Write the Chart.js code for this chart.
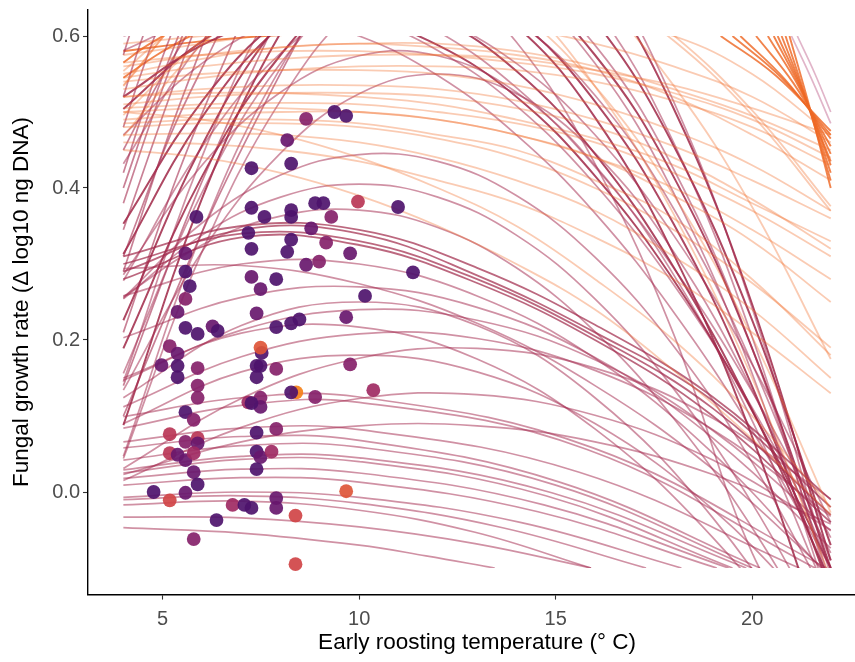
<!DOCTYPE html>
<html>
<head>
<meta charset="utf-8">
<script src="https://cdn.jsdelivr.net/npm/chart.js@4.4.1/dist/chart.umd.min.js"></script>
<style>
  html, body { margin: 0; padding: 0; background: #fff; overflow: hidden; }
  #c { display: block; }
</style>
</head>
<body>
<canvas id="c" width="873" height="662"></canvas>
<script>
// ---------- axis ticks ----------
const xTicks = [5, 10, 15, 20];
const xTickLabels = ['5', '10', '15', '20'];
const yTicks = [0, 0.2, 0.4, 0.6];
const yTickLabels = ['0.0', '0.2', '0.4', '0.6'];

// fitted curves are bounded to this response range
const curveRange = [-0.1, 0.6];

// ---------- posterior curve draws ----------
// sampled on shared temperature grids
const gridX = [4, 6, 8, 10, 12, 14, 16, 18, 20, 22];
const gridX3 = [4, 7, 10, 13, 16, 19, 22];

// warm-roost draws (pale orange)
const paleDraws = [
  [0.575, 0.59, 0.605, 0.62, 0.63, 0.63, 0.62, 0.60, 0.55, 0.47],
  [0.59, 0.60, 0.61, 0.615, 0.615, 0.61, 0.59, 0.56, 0.52, 0.46],
  [0.565, 0.575, 0.58, 0.58, 0.575, 0.565, 0.55, 0.525, 0.49, 0.44],
  [0.545, 0.56, 0.57, 0.575, 0.575, 0.57, 0.555, 0.535, 0.505, 0.47],
  [0.54, 0.55, 0.555, 0.555, 0.55, 0.535, 0.51, 0.475, 0.43, 0.37],
  [0.53, 0.545, 0.555, 0.56, 0.56, 0.555, 0.54, 0.515, 0.48, 0.43],
  [0.52, 0.53, 0.535, 0.535, 0.53, 0.515, 0.49, 0.455, 0.41, 0.36],
  [0.51, 0.52, 0.525, 0.525, 0.52, 0.505, 0.48, 0.44, 0.385, 0.32],
  [0.505, 0.51, 0.512, 0.51, 0.50, 0.485, 0.46, 0.42, 0.37, 0.31],
  [0.50, 0.505, 0.505, 0.50, 0.49, 0.47, 0.44, 0.40, 0.345, 0.28],
  [0.49, 0.497, 0.50, 0.50, 0.49, 0.47, 0.44, 0.39, 0.33, 0.25],
  [0.485, 0.49, 0.49, 0.485, 0.47, 0.45, 0.41, 0.36, 0.28, 0.18],
  [0.48, 0.485, 0.485, 0.48, 0.465, 0.44, 0.40, 0.345, 0.275, 0.19],
  [0.47, 0.472, 0.47, 0.46, 0.44, 0.41, 0.37, 0.31, 0.24, 0.15],
  [0.46, 0.458, 0.45, 0.435, 0.41, 0.38, 0.335, 0.28, 0.21, 0.13],
  [0.45, 0.44, 0.42, 0.39, 0.35, 0.30, 0.24, 0.16, 0.07, -0.03],
  [0.50, 0.49, 0.47, 0.44, 0.40, 0.35, 0.28, 0.20, 0.10, -0.02],
  [0.55, 0.57, 0.585, 0.59, 0.59, 0.58, 0.56, 0.53, 0.495, 0.45],
  [0.56, 0.575, 0.585, 0.59, 0.585, 0.575, 0.555, 0.52, 0.47, 0.41],
  [0.52, 0.525, 0.525, 0.52, 0.51, 0.49, 0.465, 0.43, 0.38, 0.33],
  [0.554, 0.64, 0.70, 0.733, 0.739, 0.719, 0.673, 0.601, 0.502, 0.376],
  [0.496, 0.594, 0.664, 0.706, 0.72, 0.706, 0.664, 0.594, 0.496, 0.37],
  [0.535, 0.655, 0.735, 0.775, 0.775, 0.735, 0.655, 0.535, 0.375, 0.175],
  [0.534, 0.654, 0.726, 0.75, 0.726, 0.654, 0.534, 0.366, 0.15, -0.114],
  [0.468, 0.589, 0.666, 0.699, 0.688, 0.633, 0.534, 0.391, 0.204, -0.027]
];

// warm-roost draws whose visible parts are short and strongly coloured
const warmTails = [
  [[19.2, 0.6], [20.6, 0.548], [22, 0.475]],
  [[19.5, 0.6], [20.75, 0.545], [22, 0.47]],
  [[19.7, 0.6], [20.85, 0.542], [22, 0.465]],
  [[20.1, 0.6], [21.05, 0.538], [22, 0.455]],
  [[20.4, 0.6], [21.2, 0.532], [22, 0.445]],
  [[20.55, 0.6], [21.27, 0.527], [22, 0.435]],
  [[20.65, 0.6], [21.32, 0.523], [22, 0.43]],
  [[20.75, 0.6], [21.37, 0.517], [22, 0.42]],
  [[20.85, 0.6], [21.42, 0.51], [22, 0.41]],
  [[20.95, 0.6], [21.47, 0.505], [22, 0.40]],
  [[4, 0.565], [4.5, 0.584], [5, 0.6], [5.4, 0.614]],
  [[4, 0.545], [4.85, 0.575], [5.7, 0.6], [6.2, 0.613]],
  [[4, 0.58], [5.8, 0.592], [7.6, 0.6], [8.4, 0.602]]
];

// cold-roost draws on gridX
const coldDraws = [
  [0.600, 0.626, 0.626, 0.600, 0.548, 0.470, 0.367, 0.237, 0.081, -0.100],
  [0.581, 0.625, 0.640, 0.625, 0.581, 0.508, 0.405, 0.273, 0.111, -0.080],
  [0.606, 0.650, 0.665, 0.650, 0.606, 0.532, 0.428, 0.295, 0.132, -0.060],
  [0.470, 0.564, 0.621, 0.640, 0.621, 0.564, 0.470, 0.338, 0.168, -0.040],
  [0.044, 0.316, 0.515, 0.642, 0.697, 0.679, 0.588, 0.425, 0.189, -0.120],
  [0.047, 0.342, 0.558, 0.696, 0.755, 0.735, 0.637, 0.460, 0.204, -0.130],
  [0.145, 0.441, 0.656, 0.789, 0.842, 0.814, 0.704, 0.514, 0.242, -0.110],
  [0.286, 0.430, 0.526, 0.574, 0.574, 0.526, 0.430, 0.286, 0.094, -0.146],
  [0.134, 0.316, 0.446, 0.524, 0.550, 0.524, 0.446, 0.316, 0.134, -0.100],
  [0.255, 0.354, 0.417, 0.444, 0.435, 0.390, 0.309, 0.192, 0.039, -0.150],
  [0.254, 0.338, 0.388, 0.405, 0.388, 0.338, 0.254, 0.136, -0.015, -0.200],
  [0.257, 0.325, 0.363, 0.371, 0.348, 0.295, 0.211, 0.097, -0.047, -0.220],
  [0.278, 0.454, 0.577, 0.645, 0.658, 0.618, 0.522, 0.373, 0.169, -0.090],
  [0.156, 0.394, 0.564, 0.666, 0.700, 0.666, 0.564, 0.394, 0.156, -0.150],
  [0.432, 0.592, 0.688, 0.720, 0.688, 0.592, 0.432, 0.208, -0.080, -0.248]
];

// cold-roost draws that overlap many times (drawn heavier), on gridX
const coldDense = [
  [0.520, 0.588, 0.623, 0.623, 0.588, 0.520, 0.416, 0.279, 0.107, -0.100],
  [0.504, 0.593, 0.643, 0.653, 0.623, 0.554, 0.445, 0.296, 0.108, -0.119],
  [0.353, 0.514, 0.622, 0.675, 0.675, 0.622, 0.514, 0.353, 0.139, -0.130],
  [0.189, 0.415, 0.575, 0.672, 0.704, 0.672, 0.575, 0.415, 0.189, -0.100],
  [0.226, 0.456, 0.620, 0.719, 0.752, 0.719, 0.620, 0.456, 0.226, -0.070],
  [0.088, 0.386, 0.604, 0.743, 0.803, 0.783, 0.683, 0.505, 0.247, -0.090],
  [0.313, 0.493, 0.613, 0.673, 0.673, 0.613, 0.493, 0.313, 0.073, -0.228]
];

// heavy middle bundle, on gridX3
const coldBundle = [
  [0.290, 0.345, 0.340, 0.285, 0.210, 0.120, -0.020],
  [0.300, 0.340, 0.330, 0.280, 0.205, 0.110, -0.030],
  [0.280, 0.335, 0.325, 0.275, 0.200, 0.100, -0.040],
  [0.310, 0.350, 0.345, 0.295, 0.220, 0.125, -0.010]
];

// cold-roost draws on gridX3
const coldMid = [
  [0.258, 0.300, 0.300, 0.258, 0.176, 0.051, -0.114],
  [0.294, 0.298, 0.274, 0.222, 0.140, 0.030, -0.110],
  [0.203, 0.256, 0.270, 0.243, 0.177, 0.071, -0.074],
  [0.147, 0.213, 0.240, 0.226, 0.174, 0.081, -0.051],
  [0.112, 0.178, 0.208, 0.202, 0.160, 0.082, -0.032],
  [0.031, 0.123, 0.176, 0.189, 0.163, 0.097, -0.009],
  [0.015, 0.085, 0.123, 0.128, 0.101, 0.042, -0.050],
  [0.023, 0.066, 0.087, 0.087, 0.066, 0.023, -0.042],
  [0.150, 0.209, 0.217, 0.175, 0.083, -0.060, -0.250],
  [0.090, 0.158, 0.180, 0.158, 0.090, -0.023, -0.180],
  [0.124, 0.219, 0.250, 0.219, 0.124, -0.034, -0.254]
];

// low cold-roost draws, ending where they reach the lower bound
const coldLow = [
  [[4, -0.047], [7, -0.054], [10, -0.07], [11.7, -0.084], [13.45, -0.1]],
  [[4, -0.033], [7, -0.034], [10, -0.046], [12.95, -0.068], [15.9, -0.1]],
  [[4, -0.017], [7, -0.012], [10, -0.024], [12.95, -0.053], [15.9, -0.1]],
  [[4, -0.01], [7, -0.005], [10, -0.015], [13.65, -0.047], [17.3, -0.1]],
  [[4, -0.007], [7, 0.0], [10, -0.007], [14.1, -0.04], [18.2, -0.1]],
  [[4, 0.009], [7, 0.019], [10, 0.013], [14.55, -0.026], [19.1, -0.1]],
  [[4, 0.018], [7, 0.03], [10, 0.025], [14.7, -0.017], [19.4, -0.1]],
  [[4, 0.025], [7, 0.043], [10, 0.04], [14.75, -0.005], [19.5, -0.1]],
  [[4, 0.029], [7, 0.047], [10, 0.045], [14.9, -0.001], [19.85, -0.1]],
  [[4, 0.042], [7, 0.061], [10, 0.059], [15, 0.009], [20, -0.1]],
  [[4, 0.058], [7, 0.073], [10, 0.068], [15.1, 0.013], [20.2, -0.1]],
  [[4, 0.066], [7, 0.084], [10, 0.082], [15.6, 0.026], [21.2, -0.1]],
  [[4, 0.084], [7, 0.114], [10, 0.118], [15.8, 0.056], [21.6, -0.1]],
  [[4, 0.099], [7, 0.124], [10, 0.125], [15.95, 0.058], [21.9, -0.1]]
];

// steep cold-roost draws leaving through the upper bound
const coldSteep = [
  [[4, 0.575], [4.15, 0.6], [4.6, 0.67]],
  [[4, 0.52], [4.25, 0.562], [4.5, 0.6], [5.1, 0.68]],
  [[4, 0.48], [4.4, 0.543], [4.8, 0.6], [5.4, 0.68]],
  [[4, 0.45], [4.8, 0.53], [5.6, 0.6], [6.3, 0.66]],
  [[4, 0.42], [4.6, 0.515], [5.2, 0.6], [5.8, 0.675]],
  [[4, 0.40], [4.7, 0.505], [5.4, 0.6], [6.0, 0.67]],
  [[4, 0.38], [4.75, 0.495], [5.5, 0.6], [6.1, 0.675]],
  [[4, 0.345], [4.9, 0.48], [5.75, 0.6], [6.4, 0.68]],
  [[4, 0.31], [5.2, 0.47], [6.4, 0.6], [7.1, 0.68]],
  [[4, 0.29], [5.05, 0.455], [6.1, 0.6], [6.8, 0.69]],
  [[4, 0.21], [5.4, 0.42], [6.85, 0.6], [7.6, 0.68]],
  [[4, 0.14], [5.85, 0.39], [7.7, 0.6], [8.5, 0.68]],
  [[4, 0.10], [6.25, 0.37], [8.5, 0.6], [9.3, 0.67]]
];

// faint cold-roost tails near the warm end
const coldTails = [
  [[21.0, 0.6], [21.5, 0.545], [22, 0.485]],
  [[21.15, 0.6], [21.6, 0.55], [22, 0.5]]
];

// ---------- observed bats ----------
const obsTemp = [
  8.65, 9.37, 9.67, 8.17, 7.26, 8.27, 7.26, 7.59, 8.27, 8.27, 8.88, 9.09, 9.29, 9.97, 10.99,
  5.86, 7.18, 7.26, 8.27, 8.17, 8.78, 9.16, 9.77, 8.65, 8.98, 10.15, 11.37,
  5.58, 5.58, 5.69, 5.58, 5.38, 7.26, 7.49, 7.89, 5.58, 5.89, 6.27, 6.40, 7.39, 7.89, 8.27, 8.48, 9.67,
  7.52, 7.49, 5.18, 5.38, 4.97, 5.38, 5.38, 5.89, 5.89, 7.39, 7.49, 7.39, 7.89, 9.77,
  8.40, 8.27, 8.88, 10.36, 5.89, 7.18, 7.49, 7.49, 7.26, 5.58, 5.79,
  5.18, 5.58, 5.89, 5.89, 5.18, 5.38, 5.58, 5.79, 5.79, 5.89, 4.77, 5.18, 5.58, 6.37, 5.79,
  7.39, 7.89, 7.39, 7.49, 7.77, 7.39, 6.78, 7.08, 7.26, 7.89, 7.89, 8.38, 8.38, 9.67
];
const obsGrowth = [
  0.491, 0.500, 0.495, 0.463, 0.426, 0.432, 0.374, 0.362, 0.371, 0.362, 0.380, 0.380, 0.362, 0.382, 0.375,
  0.362, 0.341, 0.320, 0.332, 0.316, 0.347, 0.328, 0.314, 0.299, 0.303, 0.258, 0.289,
  0.314, 0.290, 0.271, 0.254, 0.237, 0.283, 0.267, 0.280, 0.216, 0.208, 0.218, 0.212, 0.235, 0.217, 0.222, 0.227, 0.230,
  0.183, 0.190, 0.192, 0.182, 0.167, 0.166, 0.151, 0.163, 0.140, 0.166, 0.166, 0.151, 0.162, 0.168,
  0.131, 0.131, 0.125, 0.134, 0.124, 0.118, 0.124, 0.112, 0.117, 0.105, 0.095,
  0.076, 0.066, 0.071, 0.064, 0.051, 0.049, 0.042, 0.051, 0.026, 0.010, 0.000, -0.011, -0.001, -0.037, -0.062,
  0.078, 0.083, 0.053, 0.046, 0.053, 0.030, -0.017, -0.017, -0.021, -0.008, -0.021, -0.031, -0.095, 0.001
];
// colour level of each bat on the sequential scale (0 = darkest)
const obsLevel = [
  2, 0, 0, 1, 0, 0, 0, 0, 0, 0, 0, 0, 2, 4, 0,
  0, 0, 0, 0, 0, 1, 2, 1, 1, 2, 0, 0,
  1, 0, 0, 2, 1, 1, 1, 0, 0, 0, 1, 0, 1, 0, 0, 0, 1,
  0, 6, 2, 1, 1, 0, 0, 2, 2, 0, 0, 0, 2, 2,
  7, 0, 2, 3, 2, 3, 2, 1, 0, 0, 2,
  4, 2, 4, 1, 4, 1, 1, 3, 1, 0, 0, 5, 1, 0, 2,
  0, 2, 0, 1, 3, 0, 3, 0, 0, 1, 1, 5, 5, 6
];

// ---------- styling ----------
const levelColors = [
  'rgba(78,20,108,0.92)',
  'rgba(104,24,110,0.92)',
  'rgba(134,34,106,0.92)',
  'rgba(160,42,99,0.92)',
  'rgba(186,54,86,0.92)',
  'rgba(208,68,70,0.92)',
  'rgba(222,86,56,0.92)',
  'rgba(245,128,24,0.92)'
];
const FONT = '"Liberation Sans", Arial, Helvetica, sans-serif';

function onGrid(xs, ys) { return ys.map((y, i) => ({ x: xs[i], y })); }
function fromPairs(p) { return p.map(([x, y]) => ({ x, y })); }
function curveSet(list, color, width) {
  return list.map(data => ({
    type: 'line', data, borderColor: color, borderWidth: width,
    pointRadius: 0, pointHoverRadius: 0, tension: 0.4, fill: false,
    bandClip: true, order: 1
  }));
}

const COLD = 'rgba(165,45,80,0.52)';
const datasets = [
  ...curveSet(paleDraws.map(ys => onGrid(gridX, ys)), 'rgba(240,110,45,0.36)', 1.8),
  ...curveSet(coldMid.map(ys => onGrid(gridX3, ys)), COLD, 1.7),
  ...curveSet(coldLow.map(fromPairs), COLD, 1.7),
  ...curveSet(coldDraws.map(ys => onGrid(gridX, ys)), COLD, 1.7),
  ...curveSet(coldSteep.map(fromPairs), 'rgba(165,45,80,0.6)', 1.7),
  ...curveSet(coldBundle.map(ys => onGrid(gridX3, ys)), 'rgba(160,40,72,0.7)', 1.8),
  ...curveSet(coldDense.map(ys => onGrid(gridX, ys)), 'rgba(160,40,72,0.85)', 2.0),
  ...curveSet(coldTails.map(fromPairs), 'rgba(180,70,120,0.4)', 1.7),
  ...curveSet(warmTails.map(fromPairs), 'rgba(238,105,38,0.82)', 1.9),
  {
    type: 'scatter',
    data: obsTemp.map((x, i) => ({ x, y: obsGrowth[i] })),
    backgroundColor: obsLevel.map(l => levelColors[l]),
    borderWidth: 0,
    pointRadius: 6.9,
    pointHoverRadius: 6.9,
    order: 0
  }
];

// keep each curve inside its response range
const bandClipPlugin = {
  id: 'bandClip',
  beforeDatasetDraw(chart, args) {
    const ds = chart.data.datasets[args.index];
    if (!ds.bandClip) return;
    const { ctx, chartArea, scales } = chart;
    const top = scales.y.getPixelForValue(curveRange[1]);
    const bottom = scales.y.getPixelForValue(curveRange[0]);
    ctx.save();
    ctx.beginPath();
    ctx.rect(chartArea.left, top, chartArea.right - chartArea.left, bottom - top);
    ctx.clip();
  },
  afterDatasetDraw(chart, args) {
    const ds = chart.data.datasets[args.index];
    if (ds.bandClip) chart.ctx.restore();
  }
};

new Chart(document.getElementById('c'), {
  data: { datasets },
  plugins: [bandClipPlugin],
  options: {
    responsive: false,
    animation: false,
    devicePixelRatio: 1,
    layout: { padding: { top: 9.4, right: 0, bottom: 0, left: 0 } },
    plugins: { legend: { display: false }, tooltip: { enabled: false } },
    scales: {
      x: {
        type: 'linear', position: 'bottom', min: 3.1, max: 22.9,
        afterBuildTicks: s => { s.ticks = xTicks.map(v => ({ value: v })); },
        afterFit: s => {
          s.height = 67.4;
          s.paddingLeft = 0; s.paddingRight = 0; s.paddingTop = 0; s.paddingBottom = 0;
        },
        ticks: {
          callback: v => xTickLabels[xTicks.indexOf(v)],
          color: '#4d4d4d', font: { family: FONT, size: 20 }, padding: 8, maxRotation: 0
        },
        grid: { drawOnChartArea: false, drawTicks: true, tickLength: 5, tickColor: '#333', tickWidth: 1.1 },
        border: { display: true, color: '#000', width: 1.4 },
        title: {
          display: true, text: 'Early roosting temperature (° C)', color: '#000',
          font: { family: FONT, size: 22.5 }, padding: { top: 0, bottom: 6 }
        }
      },
      y: {
        type: 'linear', position: 'left', min: -0.135, max: 0.635,
        afterBuildTicks: s => { s.ticks = yTicks.map(v => ({ value: v })); },
        afterFit: s => {
          s.width = 88;
          s.paddingLeft = 0; s.paddingRight = 0; s.paddingTop = 0; s.paddingBottom = 0;
        },
        ticks: {
          callback: v => yTickLabels[yTicks.indexOf(v)],
          color: '#4d4d4d', font: { family: FONT, size: 20 }, padding: 3
        },
        grid: { drawOnChartArea: false, drawTicks: true, tickLength: 5, tickColor: '#333', tickWidth: 1.1 },
        border: { display: true, color: '#000', width: 1.4 },
        title: {
          display: true, text: 'Fungal growth rate (Δ log10 ng DNA)', color: '#000',
          font: { family: FONT, size: 22.5 }, padding: { top: 8, bottom: 0 }
        }
      }
    }
  }
});
</script>
</body>
</html>
